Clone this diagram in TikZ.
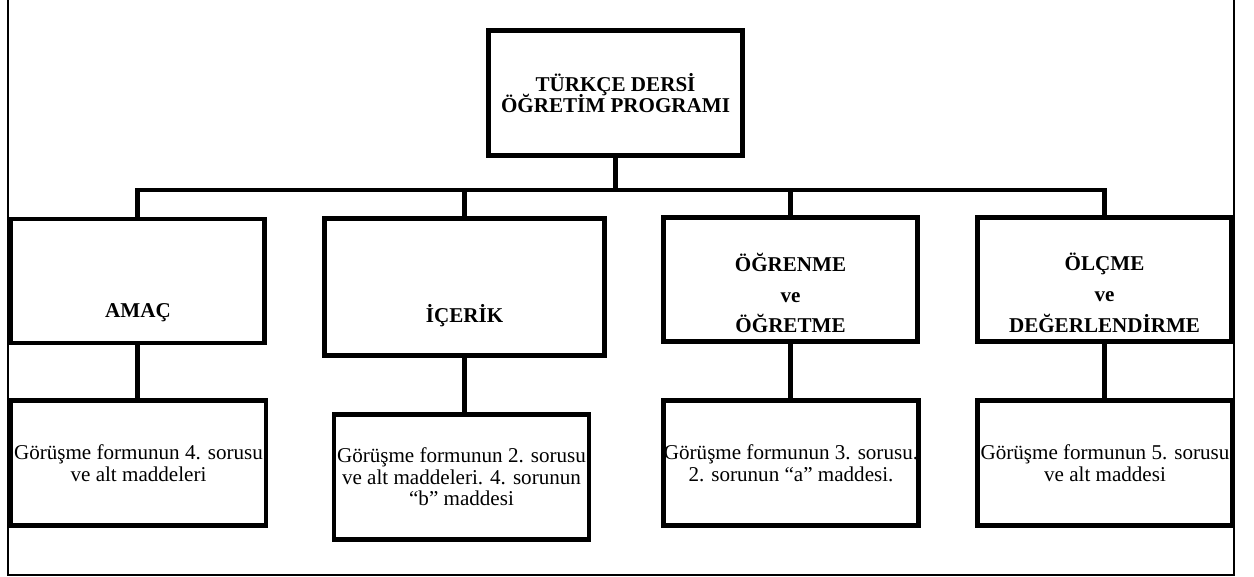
\documentclass[tikz,border=0pt]{standalone}
\usepackage{fontspec}
\setmainfont{Liberation Serif}
\usepackage{tikz}

\begin{document}
\begin{tikzpicture}[x=0.02cm, y=-0.02cm,
  box/.style={draw, line width=0.09cm, minimum width=5.08cm, minimum height=2.48cm, inner sep=0pt, align=center},
  head/.style={font=\bfseries\fontsize{12}{17.6}\selectfont, align=center},
  note/.style={box, minimum width=5.11cm, minimum height=2.5cm, font=\fontsize{12}{12.3}\selectfont},
  conn/.style={line width=0.085cm}]
\useasboundingbox (0,0) rectangle (1254,577);
\draw[line width=0.6pt] (8,0) -- (8,575) -- (1234,575) -- (1234,0);

\node[box, minimum height=2.5cm, font={\bfseries\fontsize{12}{11.7}\selectfont\lineskiplimit=-1cm}] (prog) at (615.5,93) {TÜRKÇE DERSİ\\ÖĞRETİM PROGRAMI};

\node[box] (amac) at (137.5,281) {};
\node[box, minimum width=5.6cm, minimum height=2.74cm] (icerik) at (464.5,287) {};
\node[box] (ogrenme) at (790.5,279.5) {};
\node[box] (olcme) at (1104.5,279.5) {};
\node[head, anchor=base] (amacyazi) at (138,318) {AMAÇ};
\node[head, anchor=base] (icerikyazi) at (464.5,323) {İÇERİK};
\node[head] (ogrenmeyazi) at (790.5,293) {ÖĞRENME\\ve\\ÖĞRETME};
\node[head] (olcmeyazi) at (1104.5,293) {ÖLÇME\\ve\\DEĞERLENDİRME};

\coordinate (bus) at (615.5,190);
\draw[conn] (prog.south) -- (bus);
\draw[conn] (amac.north) |- (bus) -| (olcme.north);
\draw[conn] (icerik.north) -- (icerik.north |- bus);
\draw[conn] (ogrenme.north) -- (ogrenme.north |- bus);

\node[note] (amacsub) at (138.5,463) {Görüşme formunun 4. sorusu\\ve alt maddeleri};
\node[note] (iceriksub) at (461.5,477) {Görüşme formunun 2. sorusu\\ve alt maddeleri. 4. sorunun\\“b” maddesi};
\node[note] (ogrenmesub) at (791,463) {Görüşme formunun 3. sorusu.\\2. sorunun “a” maddesi.};
\node[note] (olcmesub) at (1105,463) {Görüşme formunun 5. sorusu\\ve alt maddesi};

\draw[conn] (amac.south) -- (amac.south |- amacsub.north);
\draw[conn] (icerik.south) -- (icerik.south |- iceriksub.north);
\draw[conn] (ogrenme.south) -- (ogrenme.south |- ogrenmesub.north);
\draw[conn] (olcme.south) -- (olcme.south |- olcmesub.north);
\end{tikzpicture}
\end{document}
